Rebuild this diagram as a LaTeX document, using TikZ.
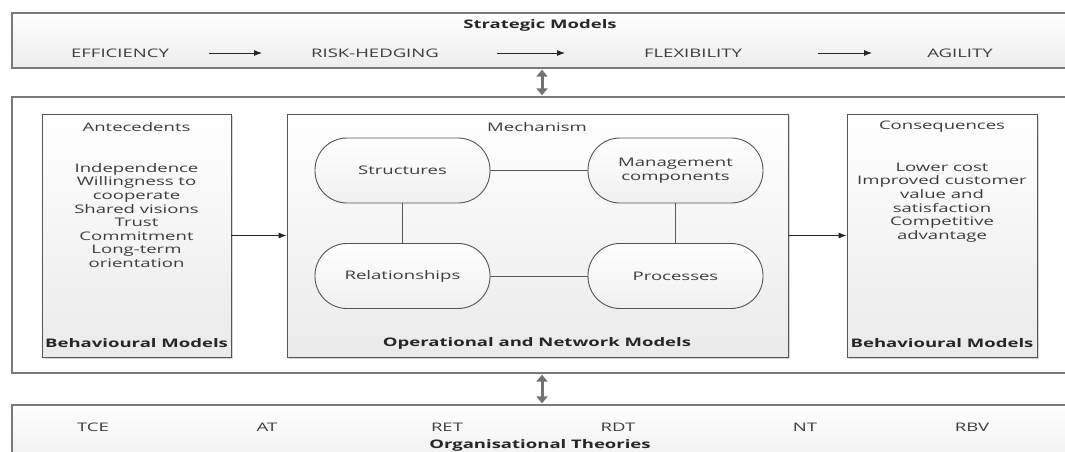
\documentclass[tikz,border=0pt]{standalone}
\usepackage{fontspec}
\setmainfont[FakeStretch=1.57]{Open Sans}
\usetikzlibrary{arrows.meta,shadows}
\definecolor{edgec}{HTML}{7A7A7A}
\definecolor{boxc}{HTML}{555555}
\definecolor{txt}{HTML}{3C3C3C}
\tikzset{
  panel/.style={draw=edgec, line width=1.3pt, top color=white, bottom color=black!7,
    drop shadow={opacity=0.25, shadow xshift=1.2pt, shadow yshift=-1.2pt}},
  innerbox/.style={draw=boxc, line width=0.9pt, top color=white, bottom color=black!8,
    drop shadow={opacity=0.3, shadow xshift=1.5pt, shadow yshift=-1.5pt}},
  oval/.style={draw=boxc, line width=0.9pt, rounded corners=32pt, top color=white, bottom color=black!6,
    minimum width=175pt, minimum height=65pt, inner sep=0pt, align=center, text=txt,
    font=\fontsize{11.8}{13.5}\selectfont},
  lbl/.style={text=txt, font=\fontsize{11.8}{13.6}\selectfont, inner sep=0pt, align=center},
  blbl/.style={text=black!85, font=\fontsize{11.8}{13.6}\selectfont\bfseries, inner sep=0pt, align=center},
  arr/.style={draw=black!85, line width=0.9pt, -{Latex[length=8pt,width=6pt]}},
  link/.style={draw=black!65, line width=1pt},
  dbl/.style={draw=black!55, line width=3pt, {Triangle[length=7pt,width=11pt]}-{Triangle[length=7pt,width=11pt]}},
}
\begin{document}
\begin{tikzpicture}[x=1pt,y=-1pt]
\useasboundingbox (0,0) rectangle (1065,452);
\begin{scope}
\clip (0,0) rectangle (1065,452);
% Strategic models panel
\node[panel, minimum width=1063pt, minimum height=55pt, inner sep=0pt] (strat) at (543.5,40.5) {};
\node[blbl] (stratt) at (540,25) {Strategic Models};
\node[lbl] (eff) at (120,53) {EFFICIENCY};
\node[lbl] (risk) at (375,53) {RISK-HEDGING};
\node[lbl] (flex) at (693,53) {FLEXIBILITY};
\node[lbl] (agil) at (960,53) {AGILITY};
\coordinate (a1s) at (209,53); \coordinate (a1e) at (262,53);
\coordinate (a2s) at (497,53); \coordinate (a2e) at (565,53);
\coordinate (a3s) at (818,53); \coordinate (a3e) at (872,53);
\draw[arr] (a1s) -- (a1e);
\draw[arr] (a2s) -- (a2e);
\draw[arr] (a3s) -- (a3e);

% Middle panel
\node[panel, top color=white, bottom color=white, minimum width=1063pt, minimum height=276pt, inner sep=0pt] (mid) at (543.5,235) {};

% Bottom panel
\node[panel, minimum width=1063pt, minimum height=70pt, inner sep=0pt] (theo) at (543.5,440) {};
\node[lbl] (tce) at (93,427) {TCE};
\node[lbl] (at) at (267,427) {AT};
\node[lbl] (ret) at (447,427) {RET};
\node[lbl] (rdt) at (618,427) {RDT};
\node[lbl] (nt) at (805,427) {NT};
\node[lbl] (rbv) at (972,427) {RBV};
\node[blbl] (theot) at (540,445) {Organisational Theories};
\end{scope}

% inner boxes
\node[innerbox, minimum width=189pt, minimum height=243pt, inner sep=0pt] (ante) at (136.5,235.5) {};
\node[innerbox, minimum width=501pt, minimum height=243pt, inner sep=0pt] (mech) at (537.5,235.5) {};
\node[innerbox, minimum width=190pt, minimum height=243pt, inner sep=0pt] (cons) at (942,235.5) {};

\node[lbl] (antet) at (136.5,127) {Antecedents};
\node[lbl] (anteb) at (136.5,215.5) {Independence\\Willingness to\\cooperate\\Shared visions\\Trust\\Commitment\\Long-term\\orientation};
\node[blbl] (antef) at (136.5,343) {Behavioural Models};

\node[lbl] (mecht) at (537,127) {Mechanism};
\node[blbl] (mechf) at (537,343) {Operational and Network Models};

\node[lbl] (const) at (942,127) {Consequences};
\node[lbl] (consb) at (942,202.5) {Lower cost\\Improved customer\\value and\\satisfaction\\Competitive\\advantage};
\node[blbl] (consf) at (942,343) {Behavioural Models};

% ovals
\node[oval] (struct) at (402.5,170.5) {Structures};
\node[oval] (mgmt) at (675.5,170.5) {Management\\components};
\node[oval] (rel) at (402.5,276) {Relationships};
\node[oval] (proc) at (675.5,276) {Processes};
\draw[link] (struct) -- (mgmt);
\draw[link] (struct) -- (rel);
\draw[link] (mgmt) -- (proc);
\draw[link] (rel) -- (proc);

% arrows between boxes
\draw[arr] (ante) -- (mech);
\draw[arr] (mech) -- (cons);

% double arrows
\draw[dbl] ([xshift=-1.5pt,yshift=-1pt]strat.south) -- ([xshift=-1.5pt,yshift=1pt]mid.north);
\draw[dbl] ([xshift=-1.5pt,yshift=-1pt]mid.south) -- ([xshift=-1.5pt,yshift=1pt]theo.north);
\end{tikzpicture}
\end{document}
